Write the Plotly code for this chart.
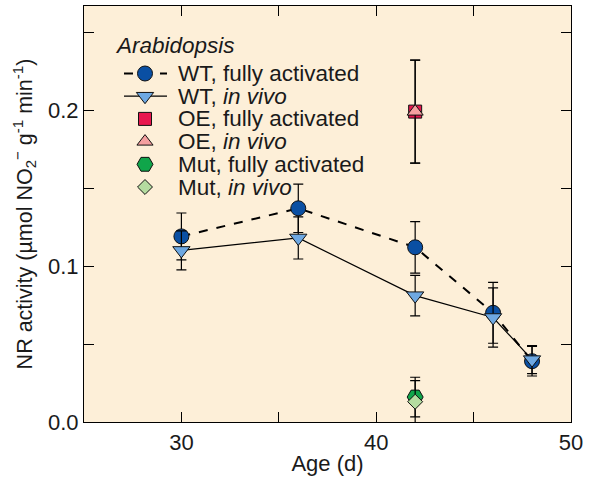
import plotly.graph_objects as go

# ---- data ----
age = [30, 36, 42, 46, 48]
wt_full = [0.119, 0.137, 0.112, 0.070, 0.039]
wt_full_err = [0.015, 0.0155, 0.0165, 0.0195, 0.0095]
wt_vivo = [0.110, 0.118, 0.081, 0.067, 0.040]
wt_vivo_err = [0.0125, 0.0135, 0.013, 0.019, 0.009]

oe_age = [42]
oe_full = [0.199]
oe_full_err = [0.033]
oe_vivo = [0.199]
oe_vivo_err = [0.033]

mut_age = [42]
mut_full = [0.016]
mut_full_err = [0.0127]
mut_vivo = [0.013]
mut_vivo_err = [0.0135]

legend_title = "Arabidopsis"
legend_labels = ["WT, fully activated", "WT, <i>in vivo</i>", "OE, fully activated",
                 "OE, <i>in vivo</i>", "Mut, fully activated", "Mut, <i>in vivo</i>"]

x_dtick, x_minor = 10, 5
y_dtick, y_minor = 0.1, 0.05

# ---- styles ----
FONT = "Liberation Sans, Arial, sans-serif"
TXT = "#1a1a1a"
C_DBLUE = "#0a4fa3"
C_LBLUE = "#6ea8e2"
C_RED = "#e8174f"
C_PINK = "#f4a0a0"
C_GREEN = "#10a54a"
C_LGREEN = "#b5dca0"
BG = "#fdefd8"
EDGE = dict(color="#111111", width=1)

styles = [
    dict(symbol="circle", color=C_DBLUE, size=15, line=dict(color="black", width=2, dash="dash")),
    dict(symbol="triangle-down", color=C_LBLUE, size=15, line=dict(color="black", width=1.2)),
    dict(symbol="square", color=C_RED, size=13, line=None),
    dict(symbol="triangle-up", color=C_PINK, size=14, line=None),
    dict(symbol="hexagon2", color=C_GREEN, size=16, line=None),
    dict(symbol="diamond", color=C_LGREEN, size=11.5, line=None),
]

def err(v):
    return dict(type="data", array=v, visible=True, color="black", thickness=1.2, width=5)

series = [
    (age, wt_full, wt_full_err),
    (age, wt_vivo, wt_vivo_err),
    (oe_age, oe_full, oe_full_err),
    (oe_age, oe_vivo, oe_vivo_err),
    (mut_age, mut_full, mut_full_err),
    (mut_age, mut_vivo, mut_vivo_err),
]

fig = go.Figure()
for (xs, ys, es), st in zip(series, styles):
    mode = "lines+markers" if st["line"] else "markers"
    fig.add_trace(go.Scatter(
        x=xs, y=ys, mode=mode, error_y=err(es),
        line=st["line"] if st["line"] else None,
        marker=dict(symbol=st["symbol"], color=st["color"], size=st["size"], line=EDGE),
        showlegend=False, cliponaxis=True,
    ))

# ---- manual legend on an overlay axis (fractions of plot area) ----
W, H = 590, 480
L, R, T, B = 84, 19, 6, 58
pw, ph = W - L - R, H - T - B

def fx(px):
    return (px - L) / pw

def fy(py):
    return (H - B - py) / ph

row_y = [73.5, 96.2, 118.9, 141.6, 164.3, 187.0]
sym_x = 145
line_x0, line_x1 = 124, 167
text_x = 176

for i, st in enumerate(styles):
    yy = fy(row_y[i])
    if st["line"]:
        fig.add_trace(go.Scatter(
            x=[fx(line_x0), fx(line_x1)], y=[yy, yy], mode="lines",
            line=st["line"], xaxis="x2", yaxis="y2", showlegend=False, hoverinfo="skip"))
    fig.add_trace(go.Scatter(
        x=[fx(sym_x)], y=[yy], mode="markers",
        marker=dict(symbol=st["symbol"], color=st["color"], size=st["size"], line=EDGE),
        xaxis="x2", yaxis="y2", showlegend=False, hoverinfo="skip"))
    fig.add_annotation(x=fx(text_x), y=yy, xref="x2", yref="y2", text=legend_labels[i],
                       showarrow=False, xanchor="left", yanchor="middle",
                       font=dict(family=FONT, size=22.5, color=TXT))

fig.add_annotation(x=fx(113), y=fy(45), xref="x2", yref="y2", text="<i>" + legend_title + "</i>",
                   showarrow=False, xanchor="left", yanchor="middle",
                   font=dict(family=FONT, size=22.5, color=TXT))

axis_common = dict(showline=True, linecolor="black", linewidth=1.2, mirror="ticks",
                   ticks="inside", ticklen=10, tickwidth=1.2, tickcolor="black",
                   showgrid=False, zeroline=False,
                   tickfont=dict(family=FONT, size=22, color=TXT))

fig.update_layout(
    width=W, height=H,
    margin=dict(l=L, r=R, t=T, b=B, pad=0),
    paper_bgcolor="white", plot_bgcolor=BG,
    font=dict(family=FONT, color=TXT),
    xaxis=dict(range=[25, 50], tickmode="linear", tick0=30, dtick=x_dtick,
               minor=dict(dtick=x_minor, tick0=30, ticks="inside", ticklen=10,
                          tickwidth=1.2, tickcolor="black", showgrid=False),
               title=dict(text="Age (d)", font=dict(family=FONT, size=22, color=TXT), standoff=2),
               **axis_common),
    yaxis=dict(range=[0, 0.2667], tickmode="linear", tick0=0, dtick=y_dtick, tickformat=".1f",
               minor=dict(dtick=y_minor, tick0=0, ticks="inside", ticklen=10,
                          tickwidth=1.2, tickcolor="black", showgrid=False),
               title=dict(text="NR activity (µmol NO<sub>2</sub><sup>−</sup> g<sup>-1</sup> min<sup>-1</sup>)",
                          font=dict(family=FONT, size=21.5, color=TXT), standoff=9),
               **axis_common),
    xaxis2=dict(range=[0, 1], overlaying="x", visible=False, fixedrange=True),
    yaxis2=dict(range=[0, 1], overlaying="y", visible=False, fixedrange=True),
)

fig.write_html("out.html")
